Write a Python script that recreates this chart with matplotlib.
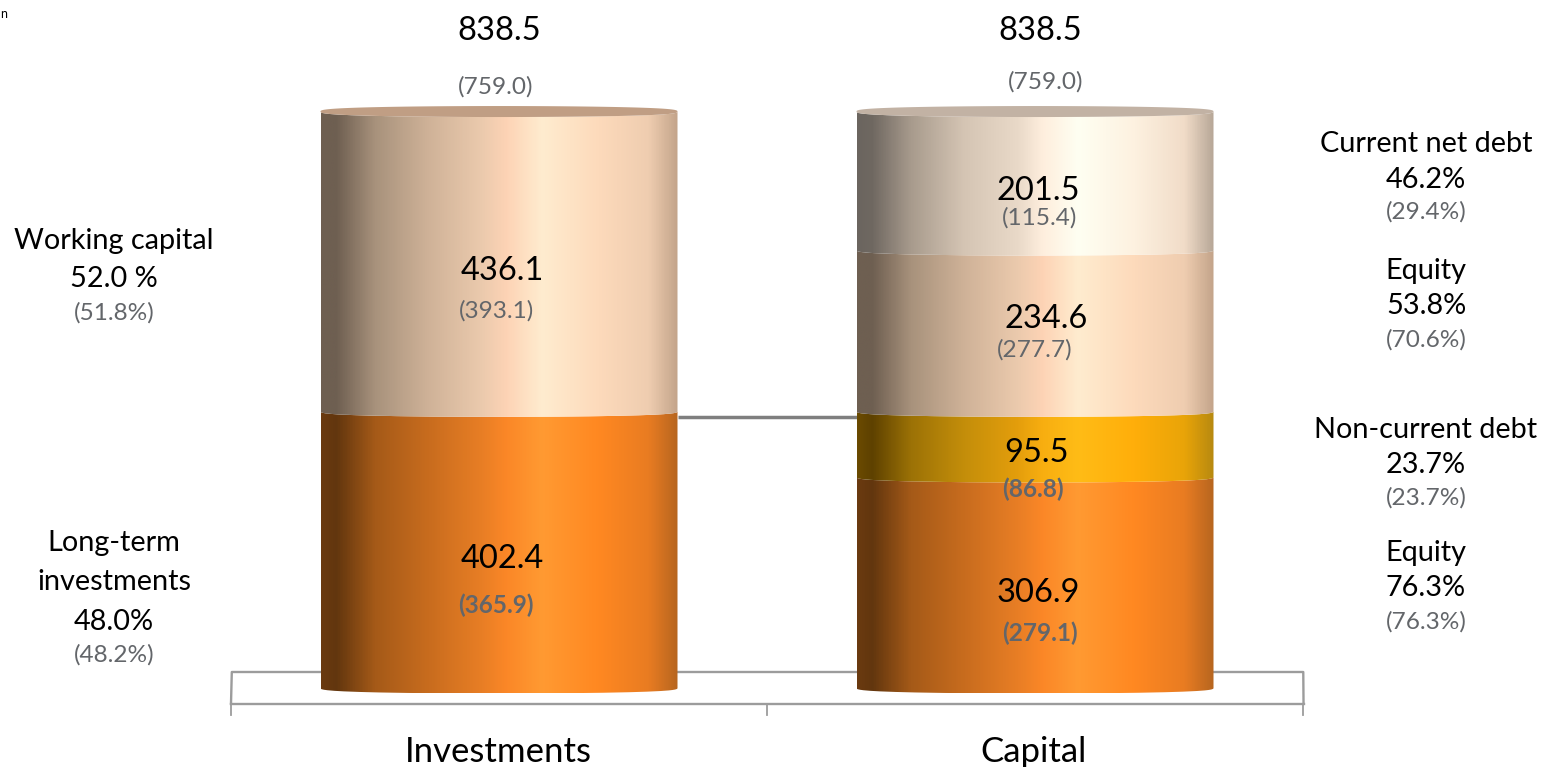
import numpy as np
import matplotlib
matplotlib.use("Agg")
import matplotlib.pyplot as plt
from matplotlib.colors import LinearSegmentedColormap
from matplotlib.path import Path
from matplotlib.patches import PathPatch, Polygon

plt.rcParams['font.family'] = ['Lato', 'DejaVu Sans']

W, H = 1545, 767

categories = ['Investments', 'Capital']
investments = [402.4, 436.1]
capital = [306.9, 95.5, 234.6, 201.5]
investments_prev = ['(365.9)', '(393.1)']
capital_prev = ['(279.1)', '(86.8)', '(277.7)', '(115.4)']
totals = [838.5, 838.5]
totals_prev = ['(759.0)', '(759.0)']

# colour ramps across the width of a cylinder
stops = [0, 0.04, 0.15, 0.3, 0.45, 0.52, 0.62, 0.78, 0.92, 1]
ramp_orange = ['#6a3a10', '#62360e', '#a55a18', '#c86c1e', '#e87e25', '#fb8727', '#ff9a32', '#ff8821', '#e97c22', '#b8661f']
ramp_yellow = ['#6a4a00', '#5e4100', '#9c7206', '#c48e0a', '#e49e0c', '#f8ae10', '#ffbc16', '#ffae0a', '#e9a408', '#b88a10']
ramp_tan = ['#6e5f51', '#6e5f51', '#a8927c', '#cfb298', '#ebcaad', '#fdd3b5', '#ffeccf', '#fddabb', '#efcdb0', '#c4a58b']
ramp_pale = ['#6b655f', '#6f6861', '#a89b8d', '#d5c5b4', '#e9d9c8', '#feeedd', '#fffff2', '#fdf1e0', '#f1dcc8', '#b8a898']

investments_ramps = [ramp_orange, ramp_tan]
capital_ramps = [ramp_orange, ramp_yellow, ramp_tan, ramp_pale]
cap_colors = ['#c09e84', '#c2b2a4']

fig = plt.figure(figsize=(W / 100, H / 100), dpi=100)
ax = fig.add_axes([0, 0, 1, 1])

# one category is 536 px wide, value scale is 0.6875 px per unit
ppx = 536.0
ppy = 0.6875
ax.set_xlim((0 - 499) / ppx, (W - 499) / ppx)
ax.set_ylim((688 - H) / ppy, 688 / ppy)
ax.axis('off')

bar_w = 357 / ppx
cap_h = 5.5 / ppy


def arc(x0, x1, y, sign=-1, n=80):
    # half of a flattened ellipse, the visible rim of a cylinder slice
    t = np.linspace(np.pi, 0, n)
    xs = (x0 + x1) / 2 + (x1 - x0) / 2 * np.cos(t)
    ys = y + sign * cap_h * np.sin(t) ** 0.7
    return xs, ys


def slice_patch(x, low, high, ramp):
    x0, x1 = x - bar_w / 2, x + bar_w / 2
    bx, by = arc(x0, x1, low)
    tx, ty = arc(x0, x1, high)
    verts = np.vstack([np.column_stack([bx, by]), np.column_stack([tx[::-1], ty[::-1]]), [[bx[0], by[0]]]])
    cmap = LinearSegmentedColormap.from_list('c', list(zip(stops, ramp)))
    grad = np.linspace(0, 1, 400).reshape(1, -1)
    im = ax.imshow(grad, cmap=cmap, extent=[x0, x1, low - cap_h, high + cap_h],
                   aspect='auto', interpolation='bilinear', zorder=3)
    im.set_clip_path(PathPatch(Path(verts), transform=ax.transData))


def draw_stack(x, values, ramps):
    base = 0
    for v, r in zip(values, ramps):
        slice_patch(x, base, base + v, r)
        base += v
    return base


def draw_cap(x, top, color):
    x0, x1 = x - bar_w / 2, x + bar_w / 2
    lx, ly = arc(x0, x1, top, -1)
    ux, uy = arc(x0, x1, top, 1)
    pts = np.vstack([np.column_stack([lx, ly]), np.column_stack([ux[::-1], uy[::-1]])])
    ax.add_patch(Polygon(pts, closed=True, facecolor=color, edgecolor='none', zorder=4))


# floor of the 3d chart behind the cylinders
axis_c = '#9c9c9c'
y_back = (688 - 672) / ppy
y_front = (688 - 703.5) / ppy
y_tick = (688 - 714.5) / ppy
ax.plot([-0.5, -0.4985, 1.5005, 1.501], [y_front, y_back, y_back, y_front], color=axis_c, lw=1.7, zorder=1)
ax.plot([-0.5, 1.501], [y_front, y_front], color=axis_c, lw=1.7, zorder=1)
for tx in [-0.5, 0.5, 1.5]:
    ax.plot([tx, tx], [y_front, y_tick], color=axis_c, lw=1.3, zorder=1)

top0 = draw_stack(0, investments, investments_ramps)
top1 = draw_stack(1, capital, capital_ramps)
draw_cap(0, top0, cap_colors[0])
draw_cap(1, top1, cap_colors[1])

# series line joining the two stacks
ax.plot([bar_w / 2, 1 - bar_w / 2], [investments[0] - cap_h] * 2, color='#7f7f7f', lw=2.5,
        solid_capstyle='butt', zorder=2)


def px(x, y, s, size=23.5, color='black', ha='center', **kw):
    ax.text(x / W, 1 - (y + 1.5) / H, s, transform=ax.transAxes, ha=ha, va='center',
            fontsize=size, color=color, zorder=6, **kw)


grey = '#63666a'
small = 17.6
cap = 20.8

# totals
px(499, 30, f'{totals[0]:.1f}')
px(1040, 30, f'{totals[1]:.1f}')
px(496, 85, totals_prev[0], small, grey)
px(1046, 80, totals_prev[1], small, grey)

# values inside the stacks
px(502, 558, f'{investments[0]:.1f}')
px(496, 604, investments_prev[0], small, grey, fontweight='bold')
px(502, 269, f'{investments[1]:.1f}')
px(496, 309, investments_prev[1], small, grey)
px(1038, 591, f'{capital[0]:.1f}')
px(1040, 632, capital_prev[0], small, grey, fontweight='bold')
px(1037, 452, f'{capital[1]:.1f}')
px(1033, 488, capital_prev[1], small, grey, fontweight='bold')
px(1046, 317, f'{capital[2]:.1f}')
px(1035, 348, capital_prev[2], small, grey)
px(1038, 189, f'{capital[3]:.1f}')
px(1040, 216, capital_prev[3], small, grey)

# captions left of the first stack
px(114, 240, 'Working capital', cap)
px(114, 277, '52.0 %', cap)
px(114, 311, '(51.8%)', small, grey)
px(114, 542, 'Long-term', cap)
px(114, 581, 'investments', cap)
px(114, 620, '48.0%', cap)
px(114, 653, '(48.2%)', small, grey)

# captions right of the second stack
px(1426, 142, 'Current net debt', cap)
px(1426, 178, '46.2%', cap)
px(1426, 210, '(29.4%)', small, grey)
px(1426, 270, 'Equity', cap)
px(1426, 305, '53.8%', cap)
px(1426, 338, '(70.6%)', small, grey)
px(1426, 428, 'Non-current debt', cap)
px(1426, 464, '23.7%', cap)
px(1426, 496, '(23.7%)', small, grey)
px(1426, 552, 'Equity', cap)
px(1426, 587, '76.3%', cap)
px(1426, 620, '(76.3%)', small, grey)

# category names under the axis
px(498, 751, categories[0], 25)
px(1034, 751, categories[1], 25)

# small heading fragment in the corner
px(0, 13, 'n', 9, ha='left')

fig.savefig('out.png', dpi=100)
